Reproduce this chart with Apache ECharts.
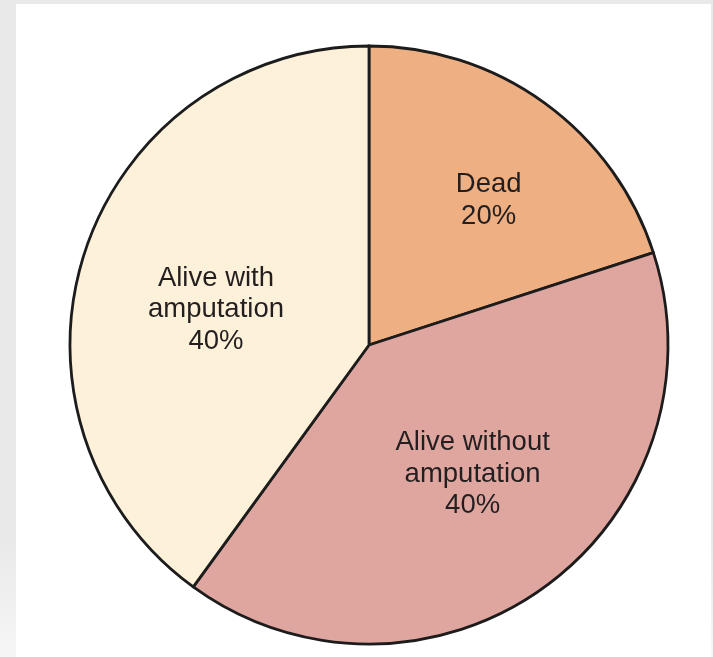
<!DOCTYPE html>
<html>
<head>
<meta charset="utf-8">
<title>Outcome</title>
<script src="https://cdn.jsdelivr.net/npm/echarts@6/dist/echarts.min.js"></script>
<style>
  html, body { margin: 0; padding: 0; width: 713px; height: 657px; overflow: hidden;
    background: linear-gradient(180deg, #e9e9e9 0%, #e9e9e9 82%, #f6f6f6 100%); }
  #panel { position: absolute; left: 16px; top: 4px; width: 695px; height: 653px; background: #ffffff; }
  #chart { position: absolute; left: 0; top: 0; width: 713px; height: 657px; }
</style>
</head>
<body>
<div id="panel"></div>
<div id="chart"></div>
<script>
// Outcome categories (clockwise from 12 o'clock) and their shares in percent
const categories = ['Dead', 'Alive without\namputation', 'Alive with\namputation'];
const shares = [20, 40, 40];
const colors = ['#eeaf82', '#dfa6a0', '#fef1da'];
// Nudges of each label away from the default mid-radius spot
const labelOffsets = [[30, -21], [14, 6], [-8, 12]];

const chart = echarts.init(document.getElementById('chart'), null, { renderer: 'canvas' });

chart.setOption({
  backgroundColor: 'transparent',
  animation: false,
  series: [{
    type: 'pie',
    silent: true,
    center: [369, 345],
    radius: [0, 299],
    startAngle: 90,
    clockwise: true,
    avoidLabelOverlap: false,
    itemStyle: { borderColor: '#1c1c1c', borderWidth: 2.8 },
    label: {
      show: true,
      position: 'inside',
      formatter: p => p.name + '\n' + p.value + '%',
      fontFamily: '"Liberation Sans", Arial, sans-serif',
      fontSize: 27.5,
      lineHeight: 31.5,
      color: '#231f20',
      align: 'center'
    },
    labelLine: { show: false },
    data: categories.map((name, i) => ({
      name: name,
      value: shares[i],
      itemStyle: { color: colors[i] },
      label: { offset: labelOffsets[i] }
    }))
  }]
});
</script>
</body>
</html>
